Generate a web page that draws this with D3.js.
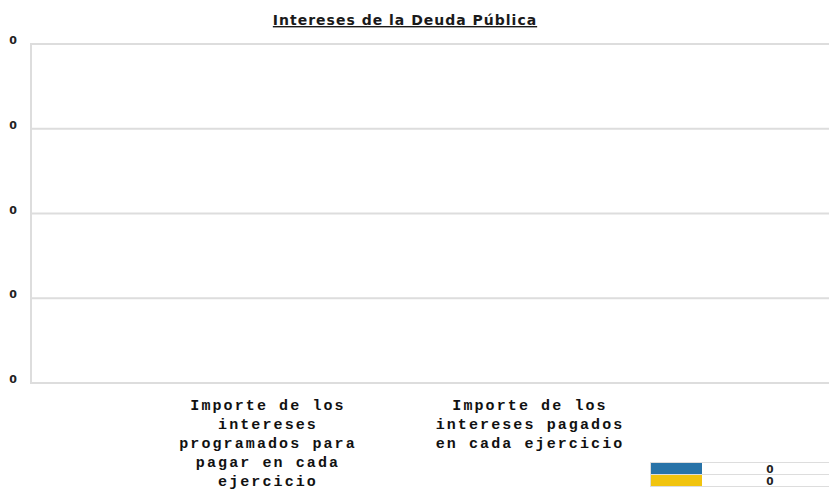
<!DOCTYPE html>
<html>
<head>
<meta charset="utf-8">
<script src="https://cdn.jsdelivr.net/npm/d3@7"></script>
<style>
  body { margin: 0; background: #fff; }
  svg { display: block; }
</style>
</head>
<body>
<svg id="chart" width="829" height="498"></svg>
<script>
var title = "Intereses de la Deuda Pública";
var categories = [
    "Importe de los\nintereses\nprogramados para\npagar en cada\nejercicio",
    "Importe de los\nintereses pagados\nen cada ejercicio"
];
var seriesNames = ["Programados", "Pagados"];
var seriesColors = ["#2873a8", "#f1c40f"];
var programados = [0, 0];
var pagados = [0, 0];
var tickValues = [0, 1, 2, 3, 4];
var tickLabels = ["0", "0", "0", "0", "0"];
var legendValues = ["0", "0"];

var svg = d3.select("#chart");

var x = d3.scaleBand().domain(categories).range([137, 661]);
var y = d3.scaleLinear().domain([0, 4]).range([383, 44]);

// gridlines
svg.append("g").selectAll("line")
    .data(tickValues)
    .enter().append("line")
    .attr("x1", 30).attr("x2", 829)
    .attr("y1", d => y(d)).attr("y2", d => y(d))
    .attr("stroke", "#dddddd")
    .attr("stroke-width", 2);

svg.append("line")
    .attr("x1", 31).attr("x2", 31)
    .attr("y1", y(4) - 1).attr("y2", y(0) + 1)
    .attr("stroke", "#dddddd")
    .attr("stroke-width", 2);

// y axis labels
var yAxis = d3.axisLeft(y)
    .tickValues(tickValues)
    .tickSize(0)
    .tickFormat((d, i) => tickLabels[i]);
var yg = svg.append("g")
    .attr("transform", "translate(17,-4)")
    .call(yAxis);
yg.select(".domain").remove();
yg.selectAll("text")
    .attr("x", 0)
    .style("font-family", "'DejaVu Sans'")
    .style("font-size", "11px")
    .style("font-weight", "bold")
    .attr("fill", "#222");

// bars (all zero)
var sub = d3.scaleBand().domain(seriesNames).range([0, x.bandwidth()]).padding(0.3);
[programados, pagados].forEach(function (vals, s) {
    svg.append("g").selectAll("rect")
        .data(vals)
        .enter().append("rect")
        .attr("x", (d, i) => x(categories[i]) + sub(seriesNames[s]))
        .attr("width", sub.bandwidth())
        .attr("y", d => y(d))
        .attr("height", d => y(0) - y(d))
        .attr("fill", seriesColors[s]);
});

// x labels
var xg = svg.append("g").selectAll("text")
    .data(categories)
    .enter().append("text")
    .attr("x", d => x(d) + x.bandwidth() / 2)
    .attr("y", 410)
    .attr("text-anchor", "middle")
    .style("font-family", "'Liberation Mono'")
    .style("font-size", "15px")
    .style("font-weight", "bold")
    .style("letter-spacing", "2.1px")
    .attr("fill", "#111");
xg.each(function (d) {
    var t = d3.select(this);
    d.split("\n").forEach(function (line, i) {
        t.append("tspan")
            .attr("x", x(d) + x.bandwidth() / 2)
            .attr("dy", i === 0 ? 0 : 19)
            .text(line);
    });
});

// title
svg.append("text")
    .attr("x", 405)
    .attr("y", 25)
    .attr("text-anchor", "middle")
    .style("font-family", "'DejaVu Sans'")
    .style("font-size", "14px")
    .style("font-weight", "bold")
    .style("letter-spacing", "1px")
    .style("text-decoration", "underline")
    .attr("fill", "#1a1a1a")
    .text(title);

// legend table
var legend = svg.append("g");
var rowH = 12;
seriesNames.forEach(function (name, i) {
    var ry = 463 + i * rowH;
    legend.append("rect")
        .attr("x", 651).attr("y", ry)
        .attr("width", 51).attr("height", rowH - 1)
        .attr("fill", seriesColors[i]);
    legend.append("line")
        .attr("x1", 650).attr("x2", 829)
        .attr("y1", ry - 0.5).attr("y2", ry - 0.5)
        .attr("stroke", "#dddddd");
    legend.append("text")
        .attr("x", 770)
        .attr("y", ry + 9.5)
        .attr("text-anchor", "middle")
        .style("font-family", "'DejaVu Sans'")
        .style("font-size", "10.5px")
        .style("font-weight", "bold")
        .attr("fill", "#222")
        .text(legendValues[i]);
});
legend.append("line")
    .attr("x1", 650).attr("x2", 829)
    .attr("y1", 463 + 2 * rowH - 0.5).attr("y2", 463 + 2 * rowH - 0.5)
    .attr("stroke", "#dddddd");
legend.append("line")
    .attr("x1", 650.5).attr("x2", 650.5)
    .attr("y1", 462).attr("y2", 487)
    .attr("stroke", "#dddddd");
</script>
</body>
</html>
